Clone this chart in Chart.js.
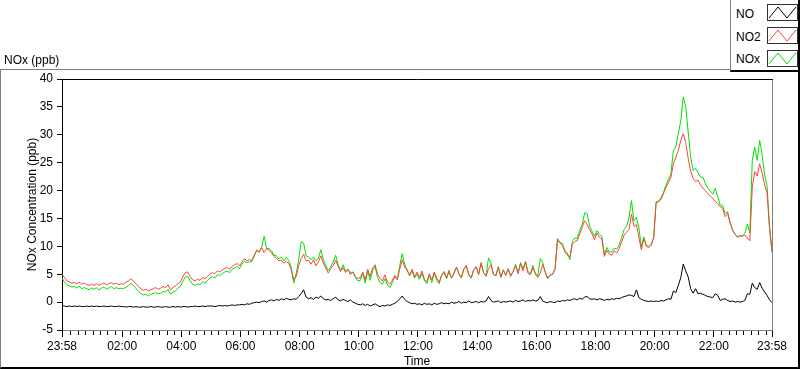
<!DOCTYPE html>
<html>
<head>
<meta charset="utf-8">
<script src="https://cdn.jsdelivr.net/npm/chart.js@4"></script>
<style>
  html, body { margin: 0; padding: 0; background: #fff; }
  #wrap { position: relative; width: 800px; height: 369px; background: #fff; overflow: hidden;
          font-family: "Liberation Sans", Arial, sans-serif; font-size: 12px; color: #000; }
  #c { position: absolute; left: 0; top: 0; }
  .abs { position: absolute; }
  #frame { left: 0; top: 69px; width: 797px; height: 297px; border-top: 1px solid #808080;
           border-left: 1px solid #808080; border-right: 2px solid #000; border-bottom: 2px solid #000; }
  #title { left: 4px; top: 53px; line-height: 14px; white-space: nowrap; }
  #legend { left: 730px; top: 0; width: 67px; height: 70px; background: #fff; border-left: 1px solid #808080;
            border-right: 2px solid #000; border-bottom: 2px solid #000; }
  .lt { position: absolute; left: 5px; line-height: 14px; white-space: nowrap; }
  .sw { position: absolute; left: 36px; }
</style>
</head>
<body>
<div id="wrap">
  <canvas id="c" width="800" height="369"></canvas>
  <div id="frame" class="abs"></div>
  <div id="title" class="abs">NOx (ppb)</div>
  <div id="legend" class="abs"></div>
</div>
<script>
// ---------------- DATA ----------------
const seriesNames = ['NO', 'NO2', 'NOx'];
const sampleStepMinutes = 5;          // one reading every 5 minutes, starting 23:58
const tickMinutes = [0, 122, 242, 362, 482, 602, 722, 842, 962, 1082, 1202, 1322, 1440];
const tickLabels = ['23:58', '02:00', '04:00', '06:00', '08:00', '10:00', '12:00', '14:00', '16:00', '18:00', '20:00', '22:00', '23:58'];
const yTickValues = [-5, 0, 5, 10, 15, 20, 25, 30, 35, 40];

const noValues = [
  -0.6,
  -0.7, -0.8, -0.7, -0.8, -0.7, -0.8, -0.7, -0.8, -0.8, -0.7, -0.8, -0.7,
  -0.8, -0.7, -0.8, -0.8, -0.7, -0.8, -0.8, -0.7, -0.8, -0.8, -0.7, -0.8,
  -0.8, -0.9, -0.8, -0.8, -0.9, -0.8, -0.9, -0.9, -0.8, -0.9, -0.9, -0.8,
  -0.9, -0.9, -0.8, -0.9, -0.9, -0.8, -0.9, -0.9, -0.8, -0.9, -0.8, -0.9,
  -0.8, -0.8, -0.9, -0.8, -0.8, -0.7, -0.8, -0.8, -0.7, -0.8, -0.7, -0.7,
  -0.7, -0.8, -0.7, -0.6, -0.7, -0.6, -0.7, -0.6, -0.5, -0.6, -0.5, -0.5,
  -0.4, -0.5, -0.3, -0.4, -0.2, -0.1, 0.0, -0.1, 0.1, 0.2, 0.0, 0.3,
  0.4, 0.2, 0.5, 0.3, 0.6, 0.4, 0.7, 0.5, 0.4, 0.6, 0.5, 1.0,
  1.5, 2.2, 0.9, 0.6, 0.8, 0.5, 0.9, 0.7, 1.1, 0.6, 0.4, 0.5,
  0.3, 0.6, 0.9, 0.4, 0.2, 0.5, 0.3, 0.1, 0.4, 0.0, -0.2, -0.4,
  -0.5, -0.3, -0.6, -0.4, -0.7, -0.5, -0.3, -0.6, -0.8, -0.6, -0.7, -0.5,
  -0.6, -0.4, -0.2, 0.1, 0.6, 1.1, 0.5, 0.1, -0.1, -0.3, -0.2, -0.4,
  -0.3, -0.5, -0.2, -0.4, -0.3, -0.5, -0.2, -0.4, -0.3, -0.1, -0.3, -0.2,
  -0.3, 0.0, -0.2, -0.1, 0.1, -0.2, 0.0, -0.1, 0.2, -0.1, 0.0, 0.1,
  -0.1, 0.1, 0.0, 0.2, 1.0, 0.3, 0.0, 0.1, 0.2, -0.1, 0.1, 0.0,
  0.1, 0.2, 0.0, 0.3, 0.1, 0.2, 0.4, 0.1, 0.3, 0.2, 0.4, 0.2,
  0.3, 1.0, 0.2, 0.0, -0.1, 0.1, 0.0, -0.1, 0.2, 0.1, 0.3, 0.2,
  0.4, 0.3, 0.5, 0.6, 0.4, 0.7, 0.5, 0.9, 1.0, 0.6, 0.5, 0.6,
  0.4, 0.6, 0.5, 0.3, 0.5, 0.4, 0.6, 0.5, 0.7, 0.6, 0.8, 1.0,
  1.1, 1.3, 1.2, 1.0, 2.2, 0.8, 0.5, 0.3, 0.2, 0.1, 0.2, 0.1,
  0.2, 0.1, 0.3, 0.2, 0.4, 0.6, 0.5, 2.0, 1.7, 3.0, 4.4, 6.8,
  5.6, 4.5, 2.4, 1.6, 2.4, 1.5, 1.6, 1.4, 1.2, 1.0, 0.9, 0.8,
  1.5, 1.2, 0.3, 0.5, 0.6, 0.3, 0.1, 0.2, 0.0, 0.1, 0.0, 0.1,
  0.3, 1.5, 1.4, 3.4, 2.6, 2.3, 3.5, 2.5, 1.8, 1.2, 0.4, -0.1
];

const no2Values = [
  5.0,
  4.4, 3.8, 3.6, 3.4, 3.5, 3.3, 3.6, 3.2, 3.4, 3.1, 3.0, 3.2,
  3.0, 3.3, 3.0, 3.2, 3.4, 3.1, 3.3, 3.5, 3.2, 3.4, 3.1, 3.3,
  3.2, 3.6, 3.8, 4.2, 3.7, 3.3, 2.8, 2.4, 2.1, 2.3, 2.0, 2.2,
  2.4, 2.6, 2.3, 2.5, 2.8, 2.6, 3.1, 2.2, 2.6, 2.9, 3.3, 3.6,
  4.5, 5.3, 5.4, 4.6, 4.0, 3.8, 4.1, 3.9, 4.4, 4.2, 4.6, 5.0,
  5.3, 5.1, 5.6, 5.4, 5.8, 6.0, 6.2, 5.9, 6.4, 6.7, 6.9, 6.5,
  7.2, 7.8, 7.4, 7.6, 7.5, 8.4, 9.3, 9.0, 9.8, 8.9, 9.6, 9.3,
  8.8, 8.2, 7.8, 7.4, 7.5, 7.0, 7.3, 6.9, 5.8, 4.0, 4.6, 6.5,
  7.8, 8.6, 7.4, 7.5, 6.8, 7.6, 6.5, 7.2, 8.3, 7.0, 6.1, 5.2,
  6.0, 6.6, 7.5, 6.4, 5.5, 6.2, 5.3, 5.8, 4.9, 5.4, 4.6, 4.2,
  4.4, 5.4, 4.0, 5.9, 4.6, 6.1, 6.7, 5.0, 4.3, 3.8, 4.9, 3.6,
  3.2, 3.9, 4.8, 4.0, 5.9, 7.6, 6.3, 5.7, 4.8, 5.9, 4.5, 5.4,
  4.4, 5.6, 4.1, 3.7, 5.1, 4.0, 5.4, 4.3, 3.6, 4.9, 5.5, 4.4,
  5.7, 4.3, 5.3, 6.3, 5.0, 4.5, 5.9, 6.6, 4.8, 4.4, 5.8, 6.3,
  5.0, 7.0, 5.3, 4.6, 6.0, 6.7, 5.0, 4.7, 6.2, 4.5, 5.7, 4.8,
  5.9, 4.6, 5.5, 6.5, 5.1, 6.9, 5.6, 7.2, 5.2, 4.9, 6.2, 5.0,
  4.4, 5.2, 6.8, 5.4, 4.3, 4.8, 5.0, 6.0, 11.2, 10.6, 10.2, 9.0,
  8.4, 8.1, 10.4, 10.9, 11.0, 12.2, 13.4, 14.6, 13.9, 13.0, 12.2, 11.2,
  12.4, 11.6, 11.3, 8.2, 9.3, 8.6, 8.4, 9.2, 8.8, 9.6, 10.8, 12.0,
  12.5, 13.0, 15.8, 13.6, 13.9, 11.6, 9.4, 11.4, 10.0, 9.8, 10.2, 11.5,
  17.8, 18.0, 18.4, 19.5, 20.6, 21.4, 22.4, 24.8, 26.0, 27.2, 29.0, 30.2,
  28.6, 25.8, 23.5, 22.2, 21.6, 21.9, 21.0, 20.4, 20.0, 19.4, 19.0, 18.6,
  18.0, 17.7, 17.1, 16.8, 15.3, 15.9, 14.2, 12.8, 12.2, 11.6, 11.9, 11.8,
  12.0, 11.5, 11.0, 20.5, 23.4, 22.6, 24.8, 23.2, 21.0, 19.6, 13.2, 9.0
];

const noxValues = [
  4.3,
  3.6, 3.1, 2.9, 2.7, 2.8, 2.5, 2.9, 2.4, 2.6, 2.4, 2.2, 2.5,
  2.3, 2.6, 2.2, 2.5, 2.7, 2.3, 2.5, 2.8, 2.4, 2.6, 2.4, 2.5,
  2.4, 2.7, 3.0, 3.4, 2.9, 2.5, 1.9, 1.5, 1.3, 1.4, 1.1, 1.4,
  1.5, 1.7, 1.5, 1.6, 1.9, 1.8, 2.3, 1.4, 1.8, 2.0, 2.5, 2.8,
  3.7, 4.5, 4.6, 3.8, 3.2, 3.0, 3.3, 3.1, 3.7, 3.4, 3.9, 4.3,
  4.6, 4.3, 4.9, 4.8, 5.1, 5.4, 5.5, 5.3, 5.9, 6.1, 6.4, 6.0,
  6.8, 7.3, 7.1, 7.2, 7.3, 8.3, 9.3, 8.9, 9.9, 11.8, 9.6, 9.6,
  9.2, 8.4, 8.3, 7.7, 8.1, 7.4, 8.0, 7.4, 6.2, 3.4, 5.1, 7.5,
  10.8, 10.6, 8.3, 8.1, 7.6, 8.1, 7.4, 7.9, 9.4, 7.6, 6.5, 5.7,
  6.3, 7.2, 8.4, 6.8, 5.7, 6.7, 5.6, 5.9, 5.3, 5.4, 4.4, 3.8,
  3.9, 5.1, 3.4, 5.5, 3.9, 5.6, 6.4, 4.4, 3.5, 3.2, 4.2, 3.1,
  2.6, 3.5, 4.6, 4.1, 6.5, 8.7, 6.8, 5.8, 4.7, 5.6, 4.3, 5.0,
  4.1, 5.1, 3.9, 3.3, 4.8, 3.5, 5.2, 3.9, 3.3, 4.8, 5.2, 4.2,
  5.4, 4.3, 5.1, 6.2, 5.1, 4.3, 5.9, 6.5, 5.0, 4.3, 5.8, 6.4,
  4.9, 7.1, 5.3, 4.8, 7.9, 7.0, 5.0, 4.8, 6.4, 4.4, 5.8, 4.8,
  6.0, 4.8, 5.5, 6.8, 5.2, 7.1, 6.0, 7.3, 5.5, 5.1, 6.6, 5.2,
  4.7, 7.8, 7.0, 5.4, 4.2, 4.9, 5.0, 5.9, 11.4, 10.7, 10.5, 9.2,
  8.8, 7.6, 10.9, 11.5, 11.4, 12.9, 13.9, 16.0, 15.9, 13.6, 12.7, 11.8,
  12.8, 12.2, 11.8, 8.5, 9.8, 9.0, 9.0, 9.7, 9.5, 10.2, 11.6, 13.0,
  13.6, 15.1, 18.2, 14.6, 15.2, 13.4, 9.9, 11.7, 10.2, 9.9, 10.4, 11.6,
  18.0, 18.1, 18.7, 19.7, 21.0, 22.0, 23.0, 27.2, 27.8, 30.2, 32.5, 36.8,
  35.0, 30.5, 26.0, 23.6, 24.0, 23.2, 22.4, 22.4, 21.2, 20.4, 19.9, 19.4,
  20.4, 18.9, 17.4, 17.3, 15.9, 16.2, 14.3, 13.0, 12.2, 11.7, 11.9, 11.9,
  12.3, 14.0, 12.4, 25.4, 27.8, 25.4, 29.0, 26.4, 22.8, 20.8, 13.6, 8.9
];

const seriesColors = ['#000000', '#ff4040', '#00e000'];

// ---------------- BUILD ----------------
const toPoints = vals => vals.map((v, i) => ({ x: i * sampleStepMinutes, y: v }));
const allValues = [noValues, no2Values, noxValues];

// minor ticks every 15 minutes (on the quarter hour)
const minorTickMinutes = [];
for (let m = 17; m < 1440; m += 15) {
  if (!tickMinutes.includes(m)) minorTickMinutes.push(m);
}

const font = { family: '"Liberation Sans", Arial, sans-serif', size: 12 };

const framePlugin = {
  id: 'frameAndMinorTicks',
  afterDraw(chart) {
    const { ctx, chartArea: a } = chart;
    const xs = chart.scales.x;
    ctx.save();
    ctx.lineWidth = 1;
    ctx.strokeStyle = '#000';
    ctx.beginPath();
    ctx.moveTo(Math.round(a.left), Math.round(a.top) + 0.5);
    ctx.lineTo(Math.round(a.right) + 1, Math.round(a.top) + 0.5);
    ctx.stroke();
    ctx.strokeStyle = '#808080';
    ctx.beginPath();
    ctx.moveTo(Math.round(a.right) + 0.5, Math.round(a.top) + 1);
    ctx.lineTo(Math.round(a.right) + 0.5, Math.round(a.bottom));
    ctx.stroke();
    ctx.strokeStyle = '#000';
    ctx.beginPath();
    for (const m of minorTickMinutes) {
      const px = Math.round(xs.getPixelForValue(m)) + 0.5;
      ctx.moveTo(px, Math.round(a.bottom) + 1);
      ctx.lineTo(px, Math.round(a.bottom) + 5);
    }
    ctx.stroke();
    ctx.restore();
  }
};

new Chart(document.getElementById('c'), {
  type: 'line',
  data: {
    datasets: seriesNames.map((name, k) => ({
      label: name,
      data: toPoints(allValues[k]),
      borderColor: seriesColors[k],
      backgroundColor: seriesColors[k],
      borderWidth: 1,
      pointRadius: 0,
      tension: 0,
      fill: false
    }))
  },
  options: {
    responsive: false,
    animation: false,
    events: [],
    layout: { padding: { top: 79, right: 28, left: 0, bottom: 0 } },
    plugins: { legend: { display: false }, tooltip: { enabled: false }, title: { display: false } },
    scales: {
      x: {
        type: 'linear',
        min: 0,
        max: 1440,
        afterBuildTicks: scale => { scale.ticks = tickMinutes.map(v => ({ value: v })); },
        afterFit: scale => { scale.height = 39; },
        ticks: {
          autoSkip: false,
          maxRotation: 0,
          minRotation: 0,
          padding: 2,
          color: '#000',
          font: font,
          callback: value => {
            const idx = tickMinutes.indexOf(value);
            return idx >= 0 ? tickLabels[idx] : '';
          }
        },
        grid: { display: true, drawOnChartArea: false, drawTicks: true, tickLength: 7, tickColor: '#000' },
        border: { display: true, color: '#808080', width: 1 },
        title: { display: true, text: 'Time', color: '#000', font: font, padding: { top: 0, bottom: 0 } }
      },
      y: {
        min: -5,
        max: 40,
        afterBuildTicks: scale => { scale.ticks = yTickValues.map(v => ({ value: v })); },
        afterFit: scale => { scale.width = 62; },
        ticks: { padding: 4, color: '#000', font: font },
        grid: { display: true, drawOnChartArea: false, drawTicks: true, tickLength: 5, tickColor: '#000' },
        border: { display: true, color: '#000', width: 1 },
        title: { display: true, text: 'NOx Concentration (ppb)', color: '#000', font: font, padding: { top: 25, bottom: 0 } }
      }
    }
  },
  plugins: [framePlugin]
});

// ---------------- LEGEND (HTML) ----------------
const legend = document.getElementById('legend');
const textTops = [7, 29.5, 52];
const swatchTops = [4, 27, 50];
seriesNames.forEach((name, k) => {
  const t = document.createElement('div');
  t.className = 'lt';
  t.style.top = textTops[k] + 'px';
  t.textContent = name;
  legend.appendChild(t);
  const ns = 'http://www.w3.org/2000/svg';
  const svg = document.createElementNS(ns, 'svg');
  svg.setAttribute('class', 'sw');
  svg.setAttribute('width', '31');
  svg.setAttribute('height', '17');
  svg.style.top = swatchTops[k] + 'px';
  const rect = document.createElementNS(ns, 'rect');
  rect.setAttribute('x', '0.5'); rect.setAttribute('y', '0.5');
  rect.setAttribute('width', '30'); rect.setAttribute('height', '16');
  rect.setAttribute('fill', '#fff'); rect.setAttribute('stroke', '#333');
  svg.appendChild(rect);
  const pl = document.createElementNS(ns, 'polyline');
  pl.setAttribute('points', '2,14 11,3 20,14 29,3');
  pl.setAttribute('fill', 'none');
  pl.setAttribute('stroke', seriesColors[k]);
  pl.setAttribute('stroke-width', '1');
  svg.appendChild(pl);
  legend.appendChild(svg);
});
</script>
</body>
</html>
